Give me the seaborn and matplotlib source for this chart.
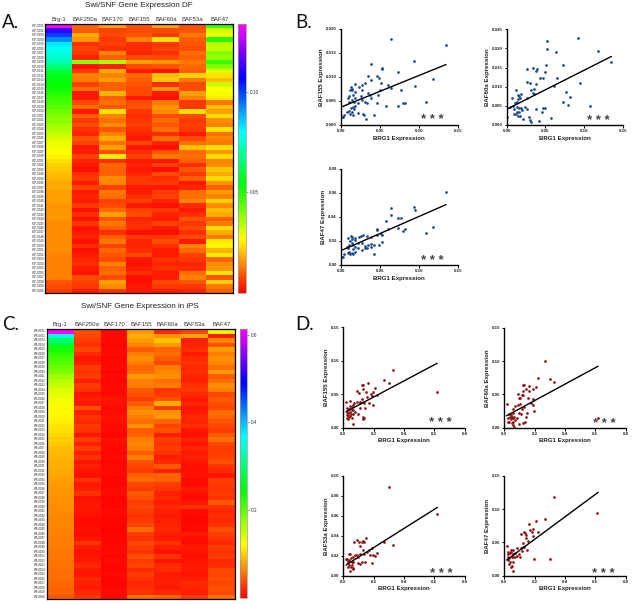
import matplotlib
matplotlib.use('Agg')
import matplotlib.pyplot as plt
from matplotlib.colors import LinearSegmentedColormap
import numpy as np
import pandas as pd
import seaborn as sns

W, H = 632, 604

# heatmap columns, expression x 1000
genes = ['Brg-1', 'BAF250a', 'BAF170', 'BAF155', 'BAF60a', 'BAF53a', 'BAF47']

df_brg1 = [133,112,100,92,82,79,77,75,72,66,60,56,55,53,52,50,48,46,44,42,40,39,37,35,33,31,29,28,27,26,24,22,21,20,19,18,18,17,17,17,16,16,16,16,15,15,15,15,15,15,15,14,14,14,14,14,14,9,8,6]
df_baf250a = [11,10,18,16,5,7,6,4,40,2,6,14,13,7,12,3,3,8,12,3,10,6,8,5,4,9,7,3,3,7,4,3,2,5,6,3,7,3,4,3,6,2,5,2,6,2,3,4,2,5,2,3,4,5,3,2,8,7,6,3]
df_baf170 = [17,7,8,6,7,5,14,10,36,4,18,14,17,10,10,19,10,12,9,24,14,12,15,9,14,18,12,17,8,25,5,11,10,10,15,14,7,13,12,7,8,11,17,9,13,10,5,10,13,7,11,9,8,14,10,12,8,17,15,6]
df_baf155 = [9,8,9,14,5,5,4,8,17,8,3,11,10,9,8,8,3,8,9,6,5,6,7,5,4,3,8,3,5,7,3,4,3,4,6,6,3,3,5,7,3,7,8,4,5,5,2,6,4,4,5,8,3,2,3,5,2,2,3,3]
df_baf60a = [17,8,6,24,6,7,5,8,16,9,2,20,21,5,16,3,2,13,16,15,8,11,9,12,5,12,4,2,9,13,3,7,2,8,5,6,3,6,7,4,2,6,4,3,7,3,2,6,8,5,3,3,5,4,5,3,3,8,6,3]
df_baf53a = [9,9,13,10,9,8,12,10,13,11,10,22,13,8,8,17,14,6,6,23,8,6,7,6,3,8,12,20,11,12,10,5,9,6,10,3,4,12,12,14,5,3,5,9,6,8,5,8,3,14,11,7,6,4,5,12,14,9,6,4]
df_baf47 = [48,32,28,50,34,33,40,38,48,40,30,24,20,32,27,28,25,13,20,17,24,15,14,24,12,14,13,24,16,23,14,15,21,18,23,16,10,17,14,22,15,20,18,10,13,23,18,13,25,26,19,25,11,15,16,24,9,22,13,10]

ips_brg1 = [613,350,300,265,235,225,215,205,195,185,170,160,150,140,135,130,125,122,120,118,115,112,108,104,100,96,92,90,88,86,84,82,80,78,76,74,72,71,70,69,68,67,66,65,64,63,62,61,60,59,58,57,56,55,54,53,52,50,48,42]
ips_baf250a = [40,35,30,25,35,20,10,15,30,25,30,15,30,25,10,15,12,40,15,25,20,30,25,10,30,15,30,15,25,10,15,10,8,25,12,15,25,8,10,12,10,8,5,6,8,5,10,25,12,8,10,12,20,12,10,20,15,12,20,28]
ips_baf170 = [6,5,6,4,6,5,4,6,5,4,6,4,5,6,5,10,8,6,5,10,8,5,6,4,8,7,6,4,5,3,7,5,6,4,3,6,5,3,4,3,5,4,3,4,2,3,4,3,5,6,3,5,4,3,5,4,3,7,5,6]
ips_baf155 = [75,85,75,65,45,60,70,60,50,55,75,60,60,45,40,30,45,60,70,60,55,70,45,50,60,65,60,45,60,40,35,30,50,55,35,30,45,40,30,35,30,25,30,35,55,30,25,35,30,25,40,30,35,20,30,25,20,22,25,55]
ips_baf60a = [20,70,95,75,50,55,45,35,60,65,70,55,60,25,30,40,85,30,70,75,50,35,40,15,30,25,30,25,15,20,45,15,50,50,30,25,15,20,15,20,15,12,15,18,20,15,12,25,15,8,25,10,22,20,12,15,15,12,20,50]
ips_baf53a = [35,80,15,18,22,12,20,25,20,22,18,15,25,28,20,12,18,10,12,20,18,22,10,8,15,10,18,12,15,10,8,8,10,7,6,12,8,6,10,25,6,5,4,6,5,12,8,6,14,10,8,10,12,14,10,16,20,18,15,30]
ips_baf47 = [118,15,65,40,75,60,70,65,55,75,45,55,70,60,35,45,40,35,55,50,40,35,30,45,55,35,30,30,35,40,25,20,10,30,30,25,30,25,45,25,20,22,20,25,40,30,25,20,30,25,30,20,22,35,35,40,35,40,38,55]

df_rows = ['hDF-%04d' % i for i in range(1, 61)]
ips_rows = ['iPS-%04d' % i for i in range(1, 61)]

# scatter panels
b1_x = [.135,.118,.109,.0956,.0934,.082,.08,.0776,.0733,.0733,.0647,.0647,.061,.058,.0527,.0527,.0514,.0493,.0467,.05,.0476,.0463,.043,.039,.039,.0356,.039,.037,.0347,.0313,.027,.0236,.027,.026,.027,.0313,.034,.029,.03,.032,.022,.022,.018,.013,.015,.012,.015,.0184,.0107,.0099,.0163,.0141,.0184,.0111,.017,.0154,.0184,.0129,.0111,.0086,.0141,.0176,.012,.0154,.0047,.0026,.0013]
b1_y = [.0167,.0095,.0047,.0081,.0133,.0045,.0045,.0073,.011,.004,.0179,.0078,.0084,.004,.0119,.0117,.0088,.0098,.0103,.0073,.0062,.0046,.0021,.0128,.0094,.0103,.0056,.0062,.0066,.0087,.0083,.008,.0072,.006,.0053,.0047,.0045,.0022,.002,.0012,.0026,.0045,.0085,.008,.0076,.0072,.0072,.0068,.006,.0056,.0062,.0053,.0056,.0047,.0047,.0038,.004,.0035,.003,.0028,.0028,.0033,.0023,.0021,.0021,.0016,.0016]
b1_fit_x = [0.0, .135]
b1_fit_y = [.0037, .0126]

b2_x = [.134,.118,.108,.095,.0926,.0814,.0789,.0767,.0729,.0729,.0639,.0651,.0609,.057,.0523,.0523,.051,.0489,.0493,.0467,.0463,.0424,.0459,.042,.0381,.0386,.0381,.0343,.0261,.0261,.0304,.0373,.0351,.0317,.0334,.0351,.0261,.0236,.0261,.0291,.03,.0313,.021,.0124,.018,.0163,.015,.0171,.015,.0073,.0129,.0107,.0077,.0043,.0009,.0129,.0159,.018,.0099,.0129,.0154,.0099,.012,.0141,.0171,.0201]
b2_y = [.0164,.0193,.005,.0109,.0226,.0072,.0052,.0087,.0061,.0156,.0192,.0122,.0103,.0018,.022,.0199,.0157,.0139,.0045,.0045,.0122,.0124,.0033,.0011,.0043,.0145,.0142,.015,.0145,.0113,.0111,.0108,.0094,.0091,.0083,.008,.007,.0046,.0042,.0022,.0013,.0007,.0015,.0091,.008,.0076,.0078,.007,.0067,.0071,.0061,.0057,.005,.0048,.0022,.0048,.0045,.0044,.0041,.0035,.0035,.003,.0028,.0024,.0024,.0039]
b2_fit_x = [0.0, .135]
b2_fit_y = [.0041, .0179]

b3_x = [.135,.118,.109,.0956,.0934,.082,.08,.0776,.0733,.0733,.0647,.0647,.061,.058,.0527,.0514,.0493,.0527,.0467,.0467,.0467,.043,.043,.039,.039,.0356,.039,.0343,.0313,.0343,.0313,.0291,.027,.0261,.0236,.0219,.027,.0219,.018,.015,.0129,.0099,.015,.0184,.012,.0141,.0111,.0099,.0163,.0184,.0154,.0111,.0141,.0099,.0154,.012,.0184,.0047,.0026,.0013,.0077]
b3_y = [.0611,.032,.0269,.0461,.0486,.03,.0283,.0389,.0389,.0311,.0472,.0414,.0297,.0369,.0189,.0256,.0167,.025,.0292,.0303,.025,.0092,.0169,.0153,.0175,.0167,.0231,.0242,.0158,.0144,.0139,.025,.0125,.0242,.0236,.0181,.0186,.0139,.0228,.0236,.0242,.0228,.0214,.0208,.0203,.0181,.0167,.0139,.0167,.0147,.0131,.0111,.0103,.0097,.0092,.0092,.0111,.0092,.0064,.0064,.0153]
b3_fit_x = [0.0, .135]
b3_fit_y = [.0119, .0503]

d1_x = [.615,.33,.301,.268,.209,.22,.198,.193,.182,.189,.16,.123,.132,.127,.147,.158,.167,.088,.103,.138,.143,.11,.095,.132,.127,.138,.018,.042,.055,.073,.092,.11,.121,.132,.11,.066,.044,.026,.04,.055,.077,.066,.062,.029,.044,.022,.033,.048,.022,.04,.057,.033,.044,.022,.062]
d1_y = [.0533,.0857,.0673,.0708,.0598,.0488,.0339,.0538,.0498,.0473,.0668,.0633,.0633,.0578,.0528,.0453,.0364,.0548,.0513,.0364,.0289,.0289,.0204,.0154,.0125,.014,.0384,.0404,.0314,.0374,.0389,.0364,.0424,.0389,.0389,.0339,.0324,.0289,.0274,.0264,.0239,.0204,.0055,.0214,.0239,.0239,.0189,.0204,.014,.0154,.014,.0125,.0174,.0189,.0264]
d1_fit_x = [.018, .618]
d1_fit_y = [.0239, .0962]

d2_x = [.615,.268,.22,.301,.327,.209,.191,.16,.165,.125,.132,.145,.121,.088,.103,.114,.125,.097,.156,.191,.178,.187,.198,.147,.143,.125,.136,.097,.02,.055,.07,.092,.103,.132,.114,.097,.11,.081,.066,.029,.042,.059,.026,.042,.055,.033,.048,.059,.066,.059,.037,.051,.026,.07]
d2_y = [.0149,.1001,.0742,.0727,.0693,.0613,.0583,.0623,.0548,.0643,.0643,.0583,.0558,.0503,.0453,.0493,.0488,.0443,.0448,.0438,.0374,.0334,.0249,.0224,.0164,.0065,.008,.0055,.0359,.0279,.0329,.0339,.0354,.0304,.0274,.0214,.0204,.0149,.0154,.0199,.0189,.0214,.014,.0125,.014,.009,.0075,.004,.0015,.009,.0164,.0164,.009,.0115]
d2_fit_x = [.015, .618]
d2_fit_y = [.0179, .0922]

d3_x = [.615,.301,.33,.268,.22,.209,.198,.189,.187,.176,.167,.154,.147,.127,.138,.121,.105,.088,.073,.11,.132,.138,.11,.088,.099,.121,.143,.099,.11,.077,.062,.044,.04,.018,.029,.048,.066,.062,.044,.029,.04,.055,.066,.033,.048,.022,.04,.057]
d3_y = [.0617,.0887,.0303,.0333,.023,.0197,.0207,.028,.013,.0207,.0257,.0233,.038,.0347,.0333,.0333,.034,.0357,.0333,.03,.026,.0213,.0213,.0207,.019,.014,.014,.0123,.0113,.0207,.019,.0217,.022,.0163,.0147,.0173,.0133,.0067,.0047,.0123,.0107,.014,.0073,.009,.009,.0167,.0157,.0107]
d3_fit_x = [.018, .62]
d3_fit_y = [.0107, .0683]

d4_x = [.613,.327,.268,.207,.16,.191,.169,.18,.22,.132,.138,.11,.145,.191,.141,.156,.125,.198,.301,.147,.121,.132,.11,.114,.097,.081,.02,.042,.055,.07,.086,.103,.07,.037,.026,.055,.033,.048,.026,.037,.055,.042,.059,.033,.051,.026,.022,.042,.059]
d4_y = [.0945,.1185,.0855,.0825,.0775,.07,.068,.065,.065,.065,.0635,.063,.0605,.0595,.057,.052,.0485,.0255,.0245,.0385,.0425,.0425,.041,.037,.032,.041,.045,.0385,.0385,.0345,.0295,.0285,.0285,.0335,.032,.032,.026,.0285,.0235,.02,.021,.0135,.007,.017,.015,.0285,.036,.036,.0285]
d4_fit_x = [.015, .618]
d4_fit_y = [.0235, .125]

df_cbar_ticks = [0.05, 0.10]
ips_cbar_ticks = [0.2, 0.4, 0.6]
xt_df = [0.00, 0.05, 0.10, 0.15]
xt_ips = [0.0, 0.2, 0.4, 0.6, 0.8]

sns.set_theme(style='white')
plt.rcParams['font.family'] = ['Liberation Sans', 'DejaVu Sans']

rainbow = LinearSegmentedColormap.from_list(
    'rainbow_red', ['#ff0000', '#ffff00', '#00ff00', '#00ffff', '#0000ff', '#ff00ff'])

fig = plt.figure(figsize=(W / 100, H / 100), dpi=100)


def box(x0, y0, x1, y1):
    # pixel box, y counted from the top
    return fig.add_axes([x0 / W, 1 - y1 / H, (x1 - x0) / W, (y1 - y0) / H])


def heat(cols, rows, vmax, hbox, cbox, ticks, fmt, title, tx, ty):
    table = pd.DataFrame(np.array(cols).T / 1000, columns=genes, index=rows)
    ax = box(*hbox)
    cax = box(*cbox)
    sns.heatmap(table, ax=ax, cbar_ax=cax, cmap=rainbow, vmin=0, vmax=vmax,
                yticklabels=True, linewidths=0)
    ax.xaxis.tick_top()
    ax.tick_params(axis='x', length=0, labelsize=4.3, pad=1.5, labelcolor='#333333')
    ax.tick_params(axis='y', length=0, labelsize=2.0, pad=0.6, labelcolor='#111111')
    for lab in ax.get_xticklabels():
        lab.set_rotation(0)
    for lab in ax.get_yticklabels():
        lab.set_rotation(0)
    for s in ax.spines.values():
        s.set_visible(True)
        s.set_color('black')
        s.set_linewidth(0.9)
    cax.set_yticks(ticks)
    cax.set_yticklabels([fmt % t for t in ticks])
    cax.tick_params(axis='y', length=1.5, width=0.4, labelsize=3.4, pad=1.5,
                    labelcolor='#333333', color='#333333', right=True)
    cb = ax.collections[0].colorbar
    cb.outline.set_edgecolor('#999999')
    cb.outline.set_linewidth(0.5)
    fig.text(tx / W, 1 - ty / H, title, ha='center', va='center', fontsize=5.8, color='#222222')


def scat(x, y, fit_x, fit_y, color, abox, xlim, ylim, xt, yt, xf, yf, ylabel, star):
    ax = box(*abox)
    sns.scatterplot(x=x, y=y, ax=ax, color=color, s=3.8, linewidth=0)
    sns.lineplot(x=fit_x, y=fit_y, ax=ax, color='black', linewidth=1.0)
    ax.set_xlim(xlim)
    ax.set_ylim(ylim)
    ax.set_xticks(xt)
    ax.set_yticks(yt)
    ax.set_xticklabels([xf % t for t in xt])
    ax.set_yticklabels([yf % t for t in yt])
    ax.tick_params(length=1.8, width=0.7, labelsize=3.2, pad=1, bottom=True, left=True,
                   color='black', labelcolor='#222222')
    for lab in ax.get_xticklabels() + ax.get_yticklabels():
        lab.set_fontweight('bold')
    sns.despine(ax=ax)
    ax.spines['left'].set_linewidth(1.0)
    ax.spines['bottom'].set_linewidth(1.0)
    ax.spines['left'].set_color('black')
    ax.spines['bottom'].set_color('black')
    ax.set_xlabel('BRG1 Expression', fontsize=4.4, fontweight='bold', labelpad=2, color='#222222')
    ax.set_ylabel(ylabel, fontsize=4.4, fontweight='bold', labelpad=1.5, color='#222222')
    # asterisks sit high in the font, so push them down a little
    ax.annotate('* * *', star, xytext=(0, -2.6), textcoords='offset points', ha='center',
                va='center', fontsize=9.5, color='#444444', fontweight='bold')


heat([df_brg1, df_baf250a, df_baf170, df_baf155, df_baf60a, df_baf53a, df_baf47],
     df_rows, 0.1337, (45, 24, 233, 293), (238, 24, 246, 293), df_cbar_ticks, '%.2f',
     'Swi/SNF Gene Expression DF', 139, 5.5)
heat([ips_brg1, ips_baf250a, ips_baf170, ips_baf155, ips_baf60a, ips_baf53a, ips_baf47],
     ips_rows, 0.613, (46.7, 329, 235, 599), (240, 329, 247, 598), ips_cbar_ticks, '%.1f',
     'Swi/SNF Gene Expression in iPS', 140, 307)

blue = '#1a4a8a'
red = '#8c1414'
xl_df = (0, 0.15)
xl_ips = (0, 0.8)
scat(b1_x, b1_y, b1_fit_x, b1_fit_y, blue, (340.7, 29, 457.7, 125), xl_df, (0, .02),
     xt_df, [0, .005, .01, .015, .02], '%.2f', '%.3f', 'BAF155 Expression', (.118, .0017))
scat(b2_x, b2_y, b2_fit_x, b2_fit_y, blue, (506.7, 29.3, 623, 125), xl_df, (0, .025),
     xt_df, [0, .005, .01, .015, .02, .025], '%.2f', '%.3f', 'BAF60a Expression', (.118, .0021))
scat(b3_x, b3_y, b3_fit_x, b3_fit_y, blue, (340.7, 169, 457.7, 265), xl_df, (0, .08),
     xt_df, [0, .02, .04, .06, .08], '%.2f', '%.2f', 'BAF47 Expression', (.118, .0067))
scat(d1_x, d1_y, d1_fit_x, d1_fit_y, red, (343.3, 327.3, 464.7, 427.7), xl_ips, (0, .15),
     xt_ips, [0, .05, .1, .15], '%.1f', '%.2f', 'BAF155 Expression', (.637, .0125))
scat(d2_x, d2_y, d2_fit_x, d2_fit_y, red, (504.3, 327.7, 625.7, 427.7), xl_ips, (0, .15),
     xt_ips, [0, .05, .1, .15], '%.1f', '%.2f', 'BAF60a Expression', (.66, .0105))
scat(d3_x, d3_y, d3_fit_x, d3_fit_y, red, (343.3, 475.7, 464.7, 575.7), xl_ips, (0, .10),
     xt_ips, [0, .02, .04, .06, .08, .10], '%.1f', '%.2f', 'BAF53a Expression', (.645, .005))
scat(d4_x, d4_y, d4_fit_x, d4_fit_y, red, (504.3, 475.7, 625.7, 575.7), xl_ips, (0, .15),
     xt_ips, [0, .05, .1, .15], '%.1f', '%.2f', 'BAF47 Expression', (.655, .0075))

for letter, px, py in [('A.', 2, 22), ('B.', 295, 22), ('C.', 2, 324), ('D.', 295, 324)]:
    fig.text(px / W, 1 - py / H, letter, fontsize=13.5, family='Lato', va='center', color='#111111')

fig.savefig('out.png', dpi=100, facecolor='white')
